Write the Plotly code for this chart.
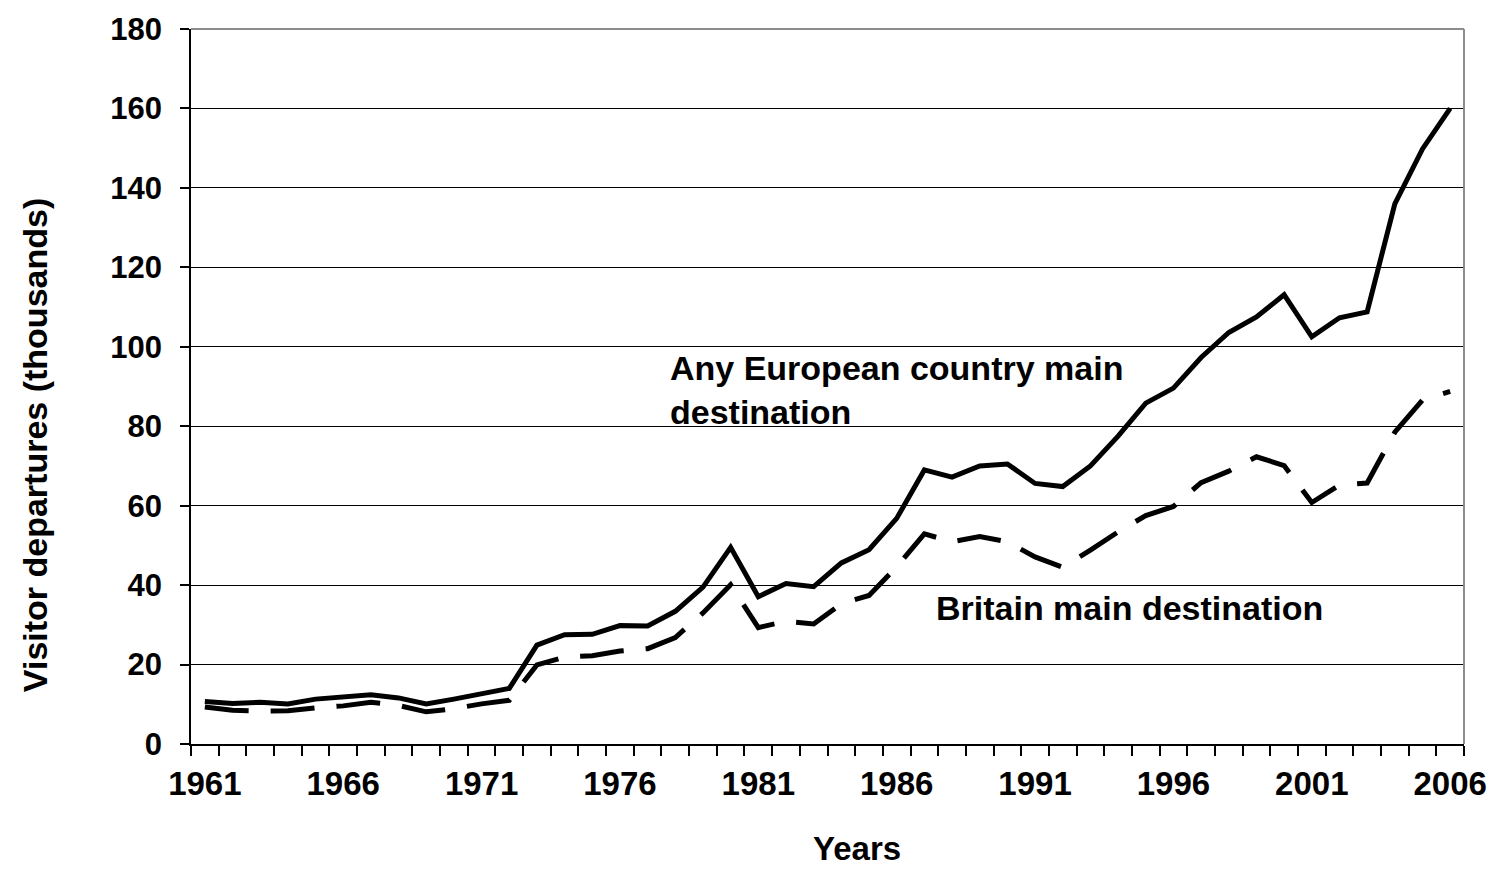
import plotly.graph_objects as go

years = list(range(1961, 2007))
europe = [10.7, 10.2, 10.5, 10.1, 11.3, 11.8, 12.4, 11.6, 10.1, 11.3, 12.6, 14.0,
          24.9, 27.5, 27.6, 29.8, 29.7, 33.4, 39.5, 49.5,
          37.1, 40.4, 39.6, 45.6, 48.9, 56.8, 69.0, 67.2, 70.0, 70.5,
          65.6, 64.8, 70.0, 77.5, 85.8, 89.6, 97.3, 103.6, 107.5, 113.1,
          102.5, 107.3, 108.8, 136.0, 149.8, 160.0]
britain = [9.3, 8.5, 8.3, 8.4, 9.1, 9.6, 10.5, 9.7, 8.1, 8.9, 10.1, 11.0,
           19.9, 21.9, 22.2, 23.4, 24.0, 26.8, 33.0, 40.1,
           29.3, 30.9, 30.2, 35.3, 37.4, 44.6, 52.9, 50.9, 52.2, 50.9,
           47.1, 44.5, 48.8, 53.4, 57.5, 59.8, 65.8, 68.7, 72.3, 70.1,
           60.8, 65.2, 65.7, 78.5, 86.6, 88.8]
x_tick_years = [1961, 1966, 1971, 1976, 1981, 1986, 1991, 1996, 2001, 2006]
y_ticks = [0, 20, 40, 60, 80, 100, 120, 140, 160, 180]

FONT = "Liberation Sans, Arial, sans-serif"

fig = go.Figure()
fig.add_trace(go.Scatter(x=years, y=europe, mode="lines",
                         line=dict(color="black", width=5), showlegend=False,
                         name="Any European country main destination"))
fig.add_trace(go.Scatter(x=years, y=britain, mode="lines",
                         line=dict(color="black", width=5, dash="44px,22px"),
                         showlegend=False, name="Britain main destination"))

fig.update_layout(
    width=1499, height=869,
    margin=dict(l=191, r=31, t=22, b=125),
    paper_bgcolor="white", plot_bgcolor="white",
    font=dict(family=FONT, color="black", size=30, weight="bold"),
    xaxis=dict(
        range=[1960.5, 2006.5], tickmode="array", tickvals=x_tick_years,
        ticktext=[str(v) for v in x_tick_years],
        ticks="", showgrid=False, zeroline=False,
        showline=True, linecolor="black", linewidth=1.5,
        tickfont=dict(size=33, family=FONT, weight="bold"),
        ticklabelstandoff=10,
        minor=dict(tick0=1960.5, dtick=1, ticks="outside", ticklen=10,
                   tickwidth=1.5, tickcolor="black", showgrid=False),
    ),
    yaxis=dict(
        range=[0, 180], tickmode="array", tickvals=y_ticks,
        ticks="outside", ticklen=9, tickwidth=1.5, tickcolor="black",
        showgrid=True, gridcolor="black", gridwidth=1.2, zeroline=False,
        showline=True, linecolor="black", linewidth=1.5,
        tickfont=dict(size=31, family=FONT, weight="bold"),
        ticklabelstandoff=12,
    ),
    shapes=[
        dict(type="line", xref="paper", yref="paper", x0=1, x1=1, y0=0, y1=1,
             line=dict(color="#8c8c8c", width=2)),
        dict(type="line", xref="paper", yref="paper", x0=0, x1=1, y0=1, y1=1,
             line=dict(color="#8c8c8c", width=2)),
    ],
    annotations=[
        dict(text="Any European country main<br>destination", x=1977.74, y=89.0,
             xref="x", yref="y", xanchor="left", yanchor="middle", align="left",
             showarrow=False, font=dict(size=34, family=FONT, weight="bold")),
        dict(text="Britain main destination", x=1987.35, y=34.2,
             xref="x", yref="y", xanchor="left", yanchor="middle", align="left",
             showarrow=False, font=dict(size=34, family=FONT, weight="bold")),
        dict(text="Years", x=0.523, y=0, xref="paper", yref="paper",
             xanchor="center", yanchor="middle", yshift=-104, showarrow=False,
             font=dict(size=33, family=FONT, weight="bold")),
        dict(text="Visitor departures (thousands)", x=0, y=0.418,
             xref="paper", yref="paper", xanchor="center", yanchor="middle",
             xshift=-156, textangle=-90, showarrow=False,
             font=dict(size=34, family=FONT, weight="bold")),
    ],
)

fig.write_html("out.html", config={"displayModeBar": False})

# remove default page margins so the figure sits at the window's top-left
with open("out.html", "r", encoding="utf-8") as f:
    html = f.read()
html = html.replace("<head>", "<head><style>html,body{margin:0;padding:0;overflow:hidden;}</style>", 1)
with open("out.html", "w", encoding="utf-8") as f:
    f.write(html)
